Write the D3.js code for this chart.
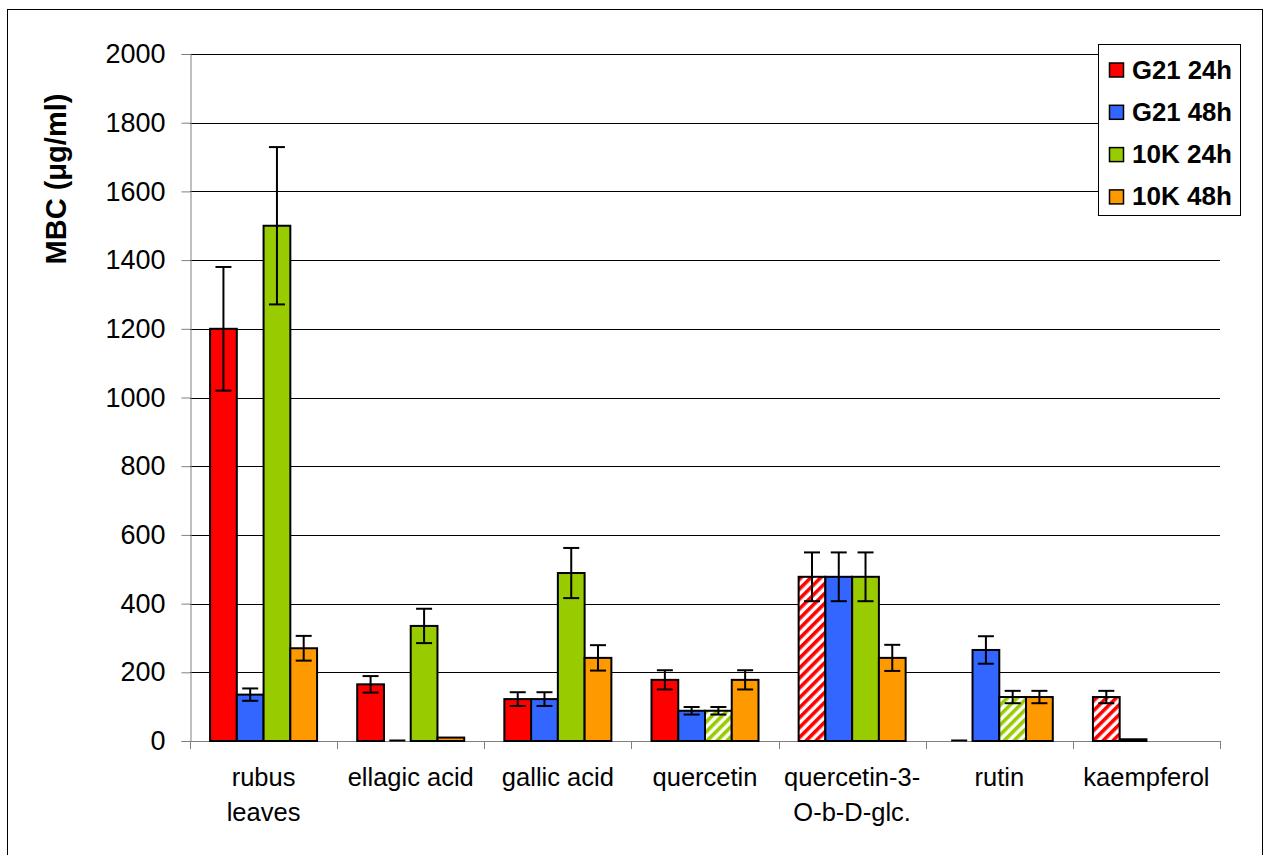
<!DOCTYPE html>
<html>
<head>
<meta charset="utf-8">
<script src="https://cdn.jsdelivr.net/npm/d3@7"></script>
<style>
 body { margin: 0; background: #fff; }
 text { font-family: "Liberation Sans", Arial, sans-serif; }
</style>
</head>
<body>
<script>
var categories = [["rubus", "leaves"], ["ellagic acid"], ["gallic acid"], ["quercetin"], ["quercetin-3-", "O-b-D-glc."], ["rutin"], ["kaempferol"]];
var seriesNames = ["G21 24h", "G21 48h", "10K 24h", "10K 48h"];
var seriesColors = ["#ff0000", "#3366ff", "#99cc00", "#ff9900"];

// null = no bar, 0 = drawn as flat line
var g21_24 = [1200, 165, 122, 178, 478, 0, 128];
var g21_48 = [135, 0, 122, 88, 478, 265, 5];
var k10_24 = [1500, 335, 489, 88, 478, 128, null];
var k10_48 = [270, 10, 242, 178, 242, 128, null];

var g21_24_err = [180, 24, 20, 28, 71, 0, 18];
var g21_48_err = [18, 0, 20, 11, 71, 40, 0];
var k10_24_err = [229, 50, 73, 11, 71, 18, 0];
var k10_48_err = [36, 0, 37, 28, 38, 18, 0];

// hatched bars
var g21_24_hatch = [false, false, false, false, true, false, true];
var k10_24_hatch = [false, false, false, true, false, true, false];

var yTicks = [0, 200, 400, 600, 800, 1000, 1200, 1400, 1600, 1800, 2000];

var values = [g21_24, g21_48, k10_24, k10_48];
var errs = [g21_24_err, g21_48_err, k10_24_err, k10_48_err];
var hatch = [g21_24_hatch, null, k10_24_hatch, null];

var W = 1266, H = 855;
var pLeft = 190, pRight = 1220, pTop = 54, pBottom = 741;

var svg = d3.select("body").append("svg").attr("width", W).attr("height", H);

/* hatch patterns */
var defs = svg.append("defs");
[0, 2].forEach(function(s) {
 var p = defs.append("pattern").attr("id", "hatch" + s).attr("patternUnits", "userSpaceOnUse")
  .attr("width", 7).attr("height", 7).attr("patternTransform", "rotate(45)");
 p.append("rect").attr("width", 7).attr("height", 7).attr("fill", "#fff");
 p.append("rect").attr("width", 3.6).attr("height", 7).attr("fill", seriesColors[s]);
});

svg.append("rect").attr("x", 7.5).attr("y", 9.5).attr("width", 1255).attr("height", 860)
 .attr("fill", "#fff").attr("stroke", "#000").attr("stroke-width", 1);

var x = d3.scaleBand().domain(d3.range(categories.length)).range([pLeft, pRight]).padding(0);
// Excel gap width 150%: 4 bars + 1.5 bar of gap
var inner = d3.scaleBand().domain(d3.range(4))
 .range([x.bandwidth() * 0.75 / 5.5, x.bandwidth() * (1 - 0.75 / 5.5)]).padding(0);
var y = d3.scaleLinear().domain([0, 2000]).range([pBottom, pTop]);

/* gridlines */
svg.append("g").selectAll("line").data(yTicks.slice(1)).enter().append("line")
 .attr("x1", pLeft).attr("x2", pRight)
 .attr("y1", function(d) { return Math.round(y(d)) + 0.5; }).attr("y2", function(d) { return Math.round(y(d)) + 0.5; })
 .attr("stroke", "#000").attr("stroke-width", 1);

/* y axis */
var yAxis = svg.append("g").attr("transform", "translate(" + (pLeft + 0.5) + ",0)")
 .call(d3.axisLeft(y).tickValues(yTicks).tickSize(9).tickPadding(16).tickFormat(d3.format("d")));
yAxis.select(".domain").attr("stroke", "#808080");
yAxis.selectAll(".tick line").attr("stroke", "#808080");
yAxis.selectAll("text").attr("font-size", 27).attr("fill", "#000")
 .attr("font-family", "'Liberation Sans', Arial, sans-serif");

/* x axis */
svg.append("line").attr("x1", pLeft).attr("x2", pRight).attr("y1", pBottom + 0.5).attr("y2", pBottom + 0.5).attr("stroke", "#808080");
svg.append("g").selectAll("line").data(d3.range(categories.length + 1)).enter().append("line")
 .attr("x1", function(d) { return Math.round(pLeft + d * x.bandwidth()) + 0.5; })
 .attr("x2", function(d) { return Math.round(pLeft + d * x.bandwidth()) + 0.5; })
 .attr("y1", pBottom).attr("y2", pBottom + 8).attr("stroke", "#808080");

svg.append("g").selectAll("text").data(categories).enter().append("text")
 .attr("text-anchor", "middle").attr("font-size", 25.5)
 .attr("x", function(d, i) { return x(i) + x.bandwidth() / 2; })
 .attr("y", 786)
 .each(function(d) {
  var t = d3.select(this);
  d.forEach(function(line, k) {
   t.append("tspan").attr("x", t.attr("x")).attr("dy", k == 0 ? 0 : 35).text(line);
  });
 });

/* bars */
var bars = [];
values.forEach(function(arr, s) {
 arr.forEach(function(v, i) {
  if (v === null) return;
  bars.push({s: s, i: i, v: v, e: errs[s][i], h: hatch[s] ? hatch[s][i] : false});
 });
});

var bw = inner.bandwidth();
svg.append("g").selectAll("rect").data(bars.filter(function(d) { return d.v > 0; })).enter().append("rect")
 .attr("x", function(d) { return x(d.i) + inner(d.s); })
 .attr("y", function(d) { return y(d.v); })
 .attr("width", bw)
 .attr("height", function(d) { return pBottom - y(d.v); })
 .attr("fill", function(d) { return d.h ? "url(#hatch" + d.s + ")" : seriesColors[d.s]; })
 .attr("stroke", "#000").attr("stroke-width", 2);

/* zero values: flat dark line */
svg.append("g").selectAll("line").data(bars.filter(function(d) { return d.v == 0; })).enter().append("line")
 .attr("x1", function(d) { return x(d.i) + inner(d.s) + bw * 0.2; })
 .attr("x2", function(d) { return x(d.i) + inner(d.s) + bw * 0.8; })
 .attr("y1", pBottom - 0.5).attr("y2", pBottom - 0.5)
 .attr("stroke", "#000").attr("stroke-width", 2);

/* error bars */
var eb = svg.append("g").selectAll("g").data(bars.filter(function(d) { return d.e > 0; })).enter().append("g")
 .attr("stroke", "#000").attr("stroke-width", 2);
eb.append("line")
 .attr("x1", function(d) { return x(d.i) + inner(d.s) + bw / 2; })
 .attr("x2", function(d) { return x(d.i) + inner(d.s) + bw / 2; })
 .attr("y1", function(d) { return y(d.v + d.e); })
 .attr("y2", function(d) { return y(d.v - d.e); });
[1, -1].forEach(function(sign) {
 eb.append("line")
  .attr("x1", function(d) { return x(d.i) + inner(d.s) + bw / 2 - 8; })
  .attr("x2", function(d) { return x(d.i) + inner(d.s) + bw / 2 + 8; })
  .attr("y1", function(d) { return y(d.v + sign * d.e); })
  .attr("y2", function(d) { return y(d.v + sign * d.e); });
});

/* y title */
svg.append("text").attr("transform", "translate(66,179) rotate(-90)")
 .attr("text-anchor", "middle").attr("font-size", 29).attr("font-weight", "bold")
 .text("MBC (\u03bcg/ml)");

/* legend */
var lg = svg.append("g");
lg.append("rect").attr("x", 1098.5).attr("y", 44.5).attr("width", 142).attr("height", 171)
 .attr("fill", "#fff").attr("stroke", "#000");
seriesNames.forEach(function(n, s) {
 var yy = 70 + s * 42.3;
 lg.append("rect").attr("x", 1109.5).attr("y", yy - 7).attr("width", 14).attr("height", 14)
  .attr("fill", seriesColors[s]).attr("stroke", "#000").attr("stroke-width", 1.5);
 lg.append("text").attr("x", 1132).attr("y", yy + 8.5).attr("font-size", 25).attr("font-weight", "bold")
  .attr("textLength", 100).attr("lengthAdjust", "spacingAndGlyphs").text(n);
});
</script>
</body>
</html>
